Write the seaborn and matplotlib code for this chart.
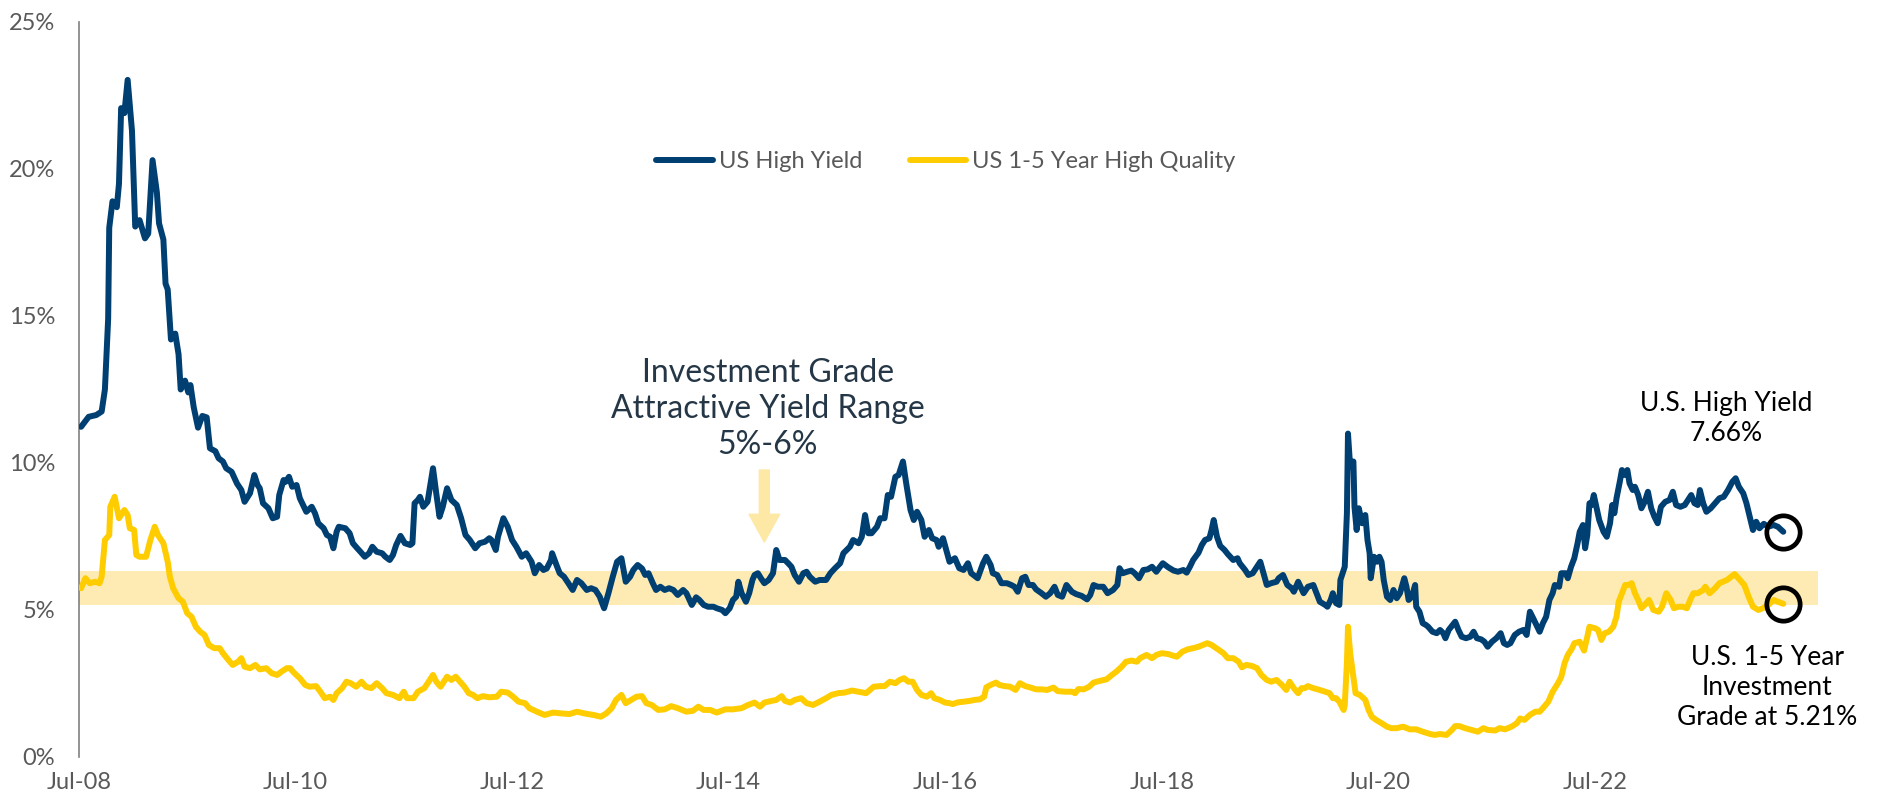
import matplotlib.pyplot as plt
import seaborn as sns

# Weekly yields (decimal year, percent)
hy_years = [
    2008.52, 2008.59, 2008.66, 2008.71, 2008.74, 2008.77, 2008.78, 2008.81, 2008.85, 2008.87,
    2008.89, 2008.92, 2008.95, 2008.99, 2009.02, 2009.06, 2009.11, 2009.14, 2009.18, 2009.22,
    2009.24, 2009.28, 2009.30, 2009.32, 2009.35, 2009.39, 2009.42, 2009.44, 2009.48, 2009.51,
    2009.53, 2009.56, 2009.60, 2009.64, 2009.68, 2009.71, 2009.76, 2009.79, 2009.83, 2009.86,
    2009.91, 2009.96, 2010.00, 2010.03, 2010.08, 2010.12, 2010.15, 2010.17, 2010.20, 2010.25,
    2010.29, 2010.33, 2010.35, 2010.39, 2010.41, 2010.44, 2010.47, 2010.51, 2010.54, 2010.57,
    2010.60, 2010.65, 2010.68, 2010.71, 2010.76, 2010.79, 2010.82, 2010.85, 2010.88, 2010.90,
    2010.96, 2011.00, 2011.03, 2011.07, 2011.10, 2011.14, 2011.18, 2011.21, 2011.25, 2011.30,
    2011.33, 2011.37, 2011.40, 2011.43, 2011.47, 2011.51, 2011.56, 2011.58, 2011.60, 2011.63,
    2011.65, 2011.68, 2011.72, 2011.77, 2011.80, 2011.83, 2011.86, 2011.90, 2011.94, 2011.99,
    2012.03, 2012.07, 2012.11, 2012.16, 2012.20, 2012.25, 2012.29, 2012.31, 2012.35, 2012.37,
    2012.42, 2012.46, 2012.50, 2012.54, 2012.59, 2012.63, 2012.68, 2012.71, 2012.75, 2012.79,
    2012.82, 2012.86, 2012.87, 2012.91, 2012.94, 2012.98, 2013.02, 2013.06, 2013.10, 2013.14,
    2013.19, 2013.23, 2013.27, 2013.31, 2013.35, 2013.39, 2013.43, 2013.47, 2013.51, 2013.55,
    2013.59, 2013.62, 2013.66, 2013.70, 2013.73, 2013.76, 2013.80, 2013.83, 2013.87, 2013.91,
    2013.95, 2013.99, 2014.03, 2014.08, 2014.11, 2014.16, 2014.20, 2014.23, 2014.27, 2014.31,
    2014.36, 2014.39, 2014.44, 2014.47, 2014.51, 2014.54, 2014.57, 2014.59, 2014.62, 2014.66,
    2014.69, 2014.72, 2014.74, 2014.77, 2014.80, 2014.83, 2014.87, 2014.91, 2014.94, 2014.97,
    2015.02, 2015.05, 2015.08, 2015.11, 2015.15, 2015.19, 2015.22, 2015.25, 2015.30, 2015.34,
    2015.40, 2015.44, 2015.48, 2015.53, 2015.56, 2015.59, 2015.62, 2015.65, 2015.70, 2015.73,
    2015.76, 2015.79, 2015.82, 2015.87, 2015.90, 2015.94, 2015.97, 2016.00, 2016.04, 2016.07,
    2016.11, 2016.14, 2016.18, 2016.21, 2016.24, 2016.28, 2016.31, 2016.35, 2016.38, 2016.42,
    2016.44, 2016.48, 2016.51, 2016.54, 2016.59, 2016.63, 2016.67, 2016.71, 2016.74, 2016.80,
    2016.85, 2016.88, 2016.92, 2016.94, 2016.98, 2017.02, 2017.07, 2017.11, 2017.14, 2017.17,
    2017.21, 2017.24, 2017.27, 2017.31, 2017.34, 2017.39, 2017.43, 2017.47, 2017.51, 2017.54,
    2017.58, 2017.62, 2017.67, 2017.71, 2017.76, 2017.81, 2017.84, 2017.87, 2017.91, 2017.96,
    2018.00, 2018.05, 2018.09, 2018.11, 2018.14, 2018.18, 2018.22, 2018.25, 2018.29, 2018.33,
    2018.37, 2018.41, 2018.45, 2018.48, 2018.51, 2018.56, 2018.61, 2018.65, 2018.70, 2018.73,
    2018.76, 2018.79, 2018.84, 2018.87, 2018.90, 2018.94, 2018.96, 2018.98, 2019.01, 2019.04,
    2019.08, 2019.11, 2019.16, 2019.20, 2019.22, 2019.27, 2019.30, 2019.34, 2019.38, 2019.41,
    2019.44, 2019.47, 2019.51, 2019.56, 2019.58, 2019.62, 2019.66, 2019.70, 2019.72, 2019.76,
    2019.81, 2019.85, 2019.90, 2019.93, 2019.96, 2020.01, 2020.03, 2020.06, 2020.08, 2020.11,
    2020.14, 2020.15, 2020.18, 2020.19, 2020.21, 2020.22, 2020.24, 2020.27, 2020.28, 2020.30,
    2020.32, 2020.35, 2020.38, 2020.40, 2020.42, 2020.43, 2020.46, 2020.49, 2020.51, 2020.53,
    2020.55, 2020.58, 2020.61, 2020.64, 2020.67, 2020.70, 2020.74, 2020.76, 2020.78, 2020.81,
    2020.84, 2020.85, 2020.88, 2020.91, 2020.94, 2020.96, 2021.00, 2021.04, 2021.07, 2021.10,
    2021.12, 2021.15, 2021.21, 2021.24, 2021.27, 2021.31, 2021.35, 2021.38, 2021.41, 2021.45,
    2021.48, 2021.51, 2021.55, 2021.59, 2021.63, 2021.66, 2021.69, 2021.72, 2021.76, 2021.80,
    2021.84, 2021.87, 2021.90, 2021.93, 2021.96, 2021.99, 2022.02, 2022.05, 2022.08, 2022.11,
    2022.13, 2022.17, 2022.19, 2022.23, 2022.25, 2022.28, 2022.31, 2022.34, 2022.36, 2022.39,
    2022.41, 2022.43, 2022.45, 2022.47, 2022.49, 2022.51, 2022.54, 2022.58, 2022.61, 2022.64,
    2022.66, 2022.68, 2022.70, 2022.73, 2022.75, 2022.78, 2022.80, 2022.82, 2022.85, 2022.87,
    2022.90, 2022.93, 2022.96, 2022.99, 2023.02, 2023.05, 2023.08, 2023.11, 2023.15, 2023.19,
    2023.22, 2023.25, 2023.29, 2023.33, 2023.36, 2023.39, 2023.42, 2023.45, 2023.47, 2023.50,
    2023.53, 2023.57, 2023.61, 2023.65, 2023.69, 2023.73, 2023.77, 2023.80, 2023.83, 2023.87,
    2023.90, 2023.93, 2023.96, 2023.99, 2024.02, 2024.06, 2024.10, 2024.15, 2024.19, 2024.24,
]
hy_values = [
    11.23, 11.57, 11.63, 11.75, 12.5, 14.9, 18.0, 18.9, 18.7, 19.5,
    22.07, 21.9, 23.03, 21.3, 18.04, 18.26, 17.64, 17.8, 20.3, 19.2,
    18.15, 17.6, 16.1, 15.9, 14.2, 14.4, 13.7, 12.5, 12.8, 12.4,
    12.65, 11.9, 11.2, 11.6, 11.55, 10.5, 10.4, 10.16, 10.05, 9.82,
    9.7, 9.3, 9.08, 8.68, 8.97, 9.59, 9.25, 9.14, 8.63, 8.46,
    8.12, 8.17, 8.91, 9.42, 9.36, 9.53, 9.19, 9.25, 8.8, 8.57,
    8.34, 8.51, 8.29, 7.95, 7.78, 7.55, 7.49, 7.1, 7.66, 7.83,
    7.78, 7.61, 7.27, 7.1, 6.98, 6.81, 6.93, 7.15, 6.98, 6.93,
    6.81, 6.7, 6.87, 7.21, 7.52, 7.27, 7.21, 7.27, 8.63, 8.74,
    8.85, 8.51, 8.68, 9.82, 8.97, 8.17, 8.51, 9.14, 8.74, 8.57,
    8.12, 7.55, 7.38, 7.1, 7.27, 7.32, 7.44, 7.38, 7.04, 7.49,
    8.12, 7.83, 7.38, 7.15, 6.81, 6.93, 6.64, 6.25, 6.53, 6.36,
    6.41, 6.7, 6.93, 6.53, 6.25, 6.13, 5.91, 5.68, 6.02, 5.91,
    5.68, 5.74, 5.68, 5.45, 5.06, 5.57, 6.13, 6.64, 6.76, 5.96,
    6.13, 6.36, 6.53, 6.41, 6.19, 6.25, 5.91, 5.68, 5.79, 5.68,
    5.74, 5.68, 5.51, 5.68, 5.57, 5.17, 5.43, 5.34, 5.17, 5.11,
    5.11, 5.06, 5.0, 4.89, 5.06, 5.34, 5.45, 5.96, 5.57, 5.28,
    5.57, 6.02, 6.19, 6.25, 6.07, 5.91, 6.02, 6.25, 7.04, 6.7,
    6.7, 6.59, 6.47, 6.19, 5.96, 6.25, 6.3, 6.13, 5.96, 6.02,
    6.02, 6.25, 6.41, 6.59, 6.93, 7.04, 7.15, 7.38, 7.27, 7.49,
    8.23, 7.61, 7.61, 7.83, 8.12, 8.12, 8.91, 8.85, 9.53, 9.59,
    10.05, 9.31, 8.4, 8.06, 8.34, 8.06, 7.49, 7.72, 7.44, 7.38,
    7.15, 7.44, 7.04, 6.64, 6.76, 6.42, 6.36, 6.59, 6.25, 6.08,
    6.59, 6.81, 6.53, 6.25, 6.19, 5.91, 5.91, 5.85, 5.79, 5.62,
    6.08, 6.13, 5.85, 5.85, 5.70, 5.57, 5.45, 5.57, 5.79, 5.51,
    5.45, 5.85, 5.62, 5.54, 5.48, 5.36, 5.51, 5.85, 5.79, 5.79,
    5.57, 5.68, 5.85, 6.42, 6.25, 6.30, 6.34, 6.25, 6.08, 6.36,
    6.38, 6.47, 6.30, 6.45, 6.59, 6.45, 6.34, 6.30, 6.36, 6.27,
    6.47, 6.70, 6.95, 7.21, 7.38, 7.44, 7.72, 8.06, 7.49, 7.18,
    7.04, 6.9, 6.70, 6.76, 6.59, 6.36, 6.19, 6.25, 6.47, 6.64,
    6.25, 5.85, 5.91, 5.96, 6.08, 6.19, 5.85, 5.74, 5.62, 5.96,
    5.57, 5.79, 5.85, 5.57, 5.28, 5.17, 5.11, 5.34, 5.57, 5.23,
    5.17, 6.02, 6.36, 6.47, 8.29, 11.0, 9.87, 10.05, 8.51, 7.72,
    8.46, 7.95, 8.23, 7.38, 6.93, 6.08, 6.81, 6.64, 6.81, 6.64,
    6.02, 5.45, 5.34, 5.68, 5.40, 5.57, 6.08, 5.79, 5.34, 5.45,
    5.85, 5.11, 4.94, 4.55, 4.49, 4.43, 4.26, 4.21, 4.32, 4.21,
    4.04, 4.32, 4.60, 4.32, 4.09, 4.04, 4.09, 4.26, 4.04, 4.00,
    3.92, 3.75, 3.92, 4.04, 4.21, 3.87, 3.81, 3.87, 4.15, 4.26,
    4.32, 4.15, 4.94, 4.72, 4.49, 4.26, 4.55, 4.77, 5.34, 5.57,
    5.85, 5.79, 6.25, 6.25, 6.08, 6.47, 6.76, 7.27, 7.66, 7.89,
    7.10, 7.55, 8.63, 8.57, 8.91, 8.57, 8.06, 7.66, 7.49, 7.95,
    8.57, 8.29, 8.80, 9.36, 9.76, 9.59, 9.76, 9.31, 9.08, 9.19,
    8.91, 8.46, 8.68, 9.02, 8.46, 8.17, 7.95, 8.51, 8.68, 8.74,
    9.02, 8.57, 8.51, 8.57, 8.74, 8.91, 8.63, 8.57, 9.08, 8.63,
    8.34, 8.46, 8.63, 8.80, 8.85, 9.08, 9.36, 9.48, 9.19, 8.97,
    8.63, 8.17, 7.72, 8.00, 7.78, 7.93, 7.83, 7.89, 7.83, 7.66,
]

ig_years = [
    2008.52, 2008.56, 2008.60, 2008.65, 2008.69, 2008.71, 2008.74, 2008.78, 2008.79, 2008.83,
    2008.87, 2008.92, 2008.95, 2008.97, 2009.01, 2009.03, 2009.06, 2009.12, 2009.16, 2009.20,
    2009.23, 2009.28, 2009.32, 2009.34, 2009.37, 2009.42, 2009.46, 2009.50, 2009.54, 2009.58,
    2009.62, 2009.66, 2009.70, 2009.75, 2009.80, 2009.83, 2009.88, 2009.92, 2009.97, 2010.00,
    2010.03, 2010.08, 2010.13, 2010.17, 2010.23, 2010.28, 2010.33, 2010.37, 2010.42, 2010.45,
    2010.49, 2010.54, 2010.59, 2010.63, 2010.69, 2010.73, 2010.77, 2010.82, 2010.85, 2010.88,
    2010.93, 2010.97, 2011.01, 2011.06, 2011.11, 2011.15, 2011.20, 2011.25, 2011.30, 2011.34,
    2011.40, 2011.46, 2011.50, 2011.53, 2011.59, 2011.63, 2011.69, 2011.73, 2011.77, 2011.80,
    2011.84, 2011.90, 2011.94, 2011.98, 2012.02, 2012.06, 2012.10, 2012.14, 2012.18, 2012.23,
    2012.29, 2012.36, 2012.40, 2012.46, 2012.51, 2012.56, 2012.62, 2012.66, 2012.73, 2012.80,
    2012.88, 2012.96, 2013.03, 2013.10, 2013.17, 2013.25, 2013.32, 2013.37, 2013.42, 2013.46,
    2013.51, 2013.55, 2013.60, 2013.65, 2013.70, 2013.74, 2013.79, 2013.85, 2013.91, 2013.97,
    2014.03, 2014.11, 2014.17, 2014.22, 2014.27, 2014.33, 2014.39, 2014.47, 2014.54, 2014.62,
    2014.68, 2014.74, 2014.79, 2014.83, 2014.90, 2014.94, 2014.99, 2015.02, 2015.07, 2015.11,
    2015.17, 2015.22, 2015.28, 2015.34, 2015.40, 2015.45, 2015.51, 2015.57, 2015.64, 2015.70,
    2015.77, 2015.84, 2015.90, 2015.94, 2015.99, 2016.04, 2016.08, 2016.12, 2016.16, 2016.20,
    2016.24, 2016.28, 2016.33, 2016.37, 2016.40, 2016.45, 2016.50, 2016.54, 2016.57, 2016.62,
    2016.67, 2016.73, 2016.77, 2016.82, 2016.86, 2016.88, 2016.92, 2016.97, 2017.00, 2017.05,
    2017.10, 2017.15, 2017.19, 2017.24, 2017.28, 2017.34, 2017.39, 2017.44, 2017.50, 2017.54,
    2017.61, 2017.67, 2017.70, 2017.73, 2017.78, 2017.83, 2017.87, 2017.93, 2017.99, 2018.04,
    2018.08, 2018.13, 2018.17, 2018.22, 2018.27, 2018.30, 2018.36, 2018.41, 2018.45, 2018.50,
    2018.56, 2018.61, 2018.64, 2018.69, 2018.74, 2018.79, 2018.84, 2018.88, 2018.92, 2018.96,
    2019.02, 2019.07, 2019.11, 2019.16, 2019.21, 2019.24, 2019.28, 2019.33, 2019.38, 2019.42,
    2019.47, 2019.51, 2019.56, 2019.61, 2019.65, 2019.68, 2019.72, 2019.76, 2019.79, 2019.82,
    2019.85, 2019.90, 2019.94, 2020.01, 2020.05, 2020.08, 2020.11, 2020.14, 2020.18, 2020.19,
    2020.21, 2020.22, 2020.24, 2020.27, 2020.29, 2020.33, 2020.38, 2020.41, 2020.44, 2020.48,
    2020.53, 2020.58, 2020.62, 2020.67, 2020.73, 2020.79, 2020.85, 2020.91, 2020.98, 2021.02,
    2021.07, 2021.13, 2021.18, 2021.21, 2021.25, 2021.30, 2021.36, 2021.42, 2021.47, 2021.51,
    2021.58, 2021.62, 2021.67, 2021.73, 2021.78, 2021.81, 2021.85, 2021.90, 2021.95, 2021.99,
    2022.02, 2022.07, 2022.11, 2022.16, 2022.19, 2022.22, 2022.25, 2022.29, 2022.31, 2022.36,
    2022.40, 2022.43, 2022.45, 2022.50, 2022.53, 2022.56, 2022.59, 2022.63, 2022.67, 2022.70,
    2022.72, 2022.75, 2022.78, 2022.81, 2022.84, 2022.87, 2022.90, 2022.93, 2022.96, 2023.00,
    2023.04, 2023.09, 2023.12, 2023.16, 2023.20, 2023.23, 2023.27, 2023.31, 2023.35, 2023.38,
    2023.41, 2023.45, 2023.50, 2023.52, 2023.56, 2023.61, 2023.65, 2023.72, 2023.79, 2023.84,
    2023.88, 2023.92, 2023.96, 2024.01, 2024.05, 2024.10, 2024.15, 2024.19, 2024.24,
]
ig_values = [
    5.74, 6.08, 5.91, 5.96, 5.91, 6.13, 7.38, 7.55, 8.51, 8.85,
    8.12, 8.40, 8.23, 7.78, 7.72, 6.87, 6.81, 6.81, 7.38, 7.83,
    7.55, 7.27, 6.64, 6.13, 5.74, 5.40, 5.28, 4.89, 4.77, 4.43,
    4.26, 4.15, 3.81, 3.70, 3.70, 3.53, 3.30, 3.13, 3.24, 3.36,
    3.07, 3.02, 3.13, 2.98, 3.02, 2.85, 2.79, 2.90, 3.02, 3.02,
    2.85, 2.68, 2.45, 2.39, 2.41, 2.22, 2.00, 2.05, 1.94, 2.17,
    2.34, 2.56, 2.51, 2.39, 2.56, 2.39, 2.34, 2.51, 2.34, 2.17,
    2.11, 2.00, 2.22, 2.00, 2.00, 2.22, 2.34, 2.56, 2.79, 2.56,
    2.39, 2.73, 2.62, 2.73, 2.56, 2.39, 2.17, 2.11, 2.00, 2.07,
    2.03, 2.05, 2.22, 2.19, 2.05, 1.88, 1.83, 1.66, 1.54, 1.43,
    1.51, 1.48, 1.46, 1.54, 1.48, 1.43, 1.37, 1.48, 1.66, 1.94,
    2.11, 1.83, 1.94, 2.05, 2.07, 1.83, 1.77, 1.60, 1.62, 1.73,
    1.66, 1.54, 1.57, 1.71, 1.60, 1.60, 1.51, 1.62, 1.62, 1.66,
    1.77, 1.85, 1.71, 1.85, 1.91, 1.94, 2.07, 1.91, 1.85, 1.94,
    2.00, 1.83, 1.77, 1.88, 2.00, 2.11, 2.17, 2.19, 2.26, 2.22,
    2.17, 2.39, 2.41, 2.41, 2.56, 2.51, 2.62, 2.68, 2.56, 2.56,
    2.28, 2.11, 2.05, 2.17, 2.00, 1.94, 1.85, 1.83, 1.80, 1.86,
    1.88, 1.91, 1.94, 1.96, 2.05, 2.37, 2.45, 2.53, 2.45, 2.41,
    2.39, 2.28, 2.51, 2.41, 2.37, 2.30, 2.30, 2.28, 2.36, 2.24,
    2.22, 2.22, 2.17, 2.31, 2.30, 2.39, 2.53, 2.59, 2.64, 2.79,
    2.90, 3.07, 3.24, 3.28, 3.24, 3.36, 3.47, 3.36, 3.47, 3.53,
    3.50, 3.44, 3.41, 3.58, 3.66, 3.70, 3.75, 3.81, 3.87, 3.81,
    3.66, 3.53, 3.36, 3.36, 3.24, 3.05, 3.13, 3.10, 3.02, 2.79,
    2.62, 2.56, 2.62, 2.45, 2.28, 2.56, 2.34, 2.17, 2.34, 2.34,
    2.41, 2.34, 2.30, 2.22, 2.17, 2.00, 2.00, 1.88, 1.60, 1.77,
    3.19, 4.43, 3.53, 2.73, 2.17, 2.11, 1.94, 1.60, 1.37, 1.26,
    1.15, 1.03, 0.98, 0.98, 1.03, 0.94, 0.94, 0.86, 0.78, 0.75,
    0.78, 0.75, 0.92, 1.05, 1.05, 0.98, 0.92, 0.86, 0.98, 0.92,
    0.90, 0.98, 0.94, 1.03, 1.15, 1.31, 1.26, 1.43, 1.54, 1.54,
    1.66, 1.88, 2.22, 2.51, 2.73, 3.19, 3.47, 3.70, 3.87, 3.92,
    3.62, 4.09, 4.43, 4.38, 4.32, 3.98, 4.21, 4.26, 4.43, 4.77,
    5.28, 5.57, 5.85, 5.85, 5.91, 5.57, 5.34, 5.06, 5.17, 5.34,
    5.00, 4.94, 5.11, 5.57, 5.34, 5.06, 5.11, 5.11, 5.06, 5.34,
    5.57, 5.57, 5.68, 5.79, 5.57, 5.74, 5.91, 6.02, 6.22, 6.02,
    5.85, 5.45, 5.11, 5.00, 5.06, 5.17, 5.34, 5.28, 5.21,
]

tick_years = [2008.5, 2010.5, 2012.5, 2014.5, 2016.5, 2018.5, 2020.5, 2022.5]
tick_labels = ["Jul-08", "Jul-10", "Jul-12", "Jul-14", "Jul-16", "Jul-18", "Jul-20", "Jul-22"]
y_ticks = [0, 5, 10, 15, 20, 25]

# shaded "attractive" range and the arrow pointing at it
BAND_LOW, BAND_HIGH = 5.17, 6.33
ARROW_X, ARROW_TOP, ARROW_TIP = 2014.83, 9.76, 7.31

HY_COLOR = "#003f72"
IG_COLOR = "#ffcc00"
BAND_COLOR = "#feebb3"
ARROW_COLOR = "#fde8a6"
TICK_COLOR = "#595959"
NOTE_COLOR = "#253746"

assert len(hy_years) == len(hy_values)
assert len(ig_years) == len(ig_values)

sns.set_theme(style="white")
plt.rcParams["font.family"] = ["Lato", "DejaVu Sans"]

fig, ax = plt.subplots(figsize=(18.79, 7.99), dpi=100)
fig.subplots_adjust(left=0.042, right=0.9675, bottom=0.0526, top=0.9725)

ax.axhspan(BAND_LOW, BAND_HIGH, color=BAND_COLOR, lw=0, zorder=0)

sns.lineplot(x=hy_years, y=hy_values, ax=ax, color=HY_COLOR, linewidth=4.3,
             estimator=None, sort=False, label="US High Yield",
             solid_capstyle="round", solid_joinstyle="round", zorder=3)
sns.lineplot(x=ig_years, y=ig_values, ax=ax, color=IG_COLOR, linewidth=4.3,
             estimator=None, sort=False, label="US 1-5 Year High Quality",
             solid_capstyle="round", solid_joinstyle="round", zorder=3)

# circles on the latest values
for xs, ys in [(hy_years, hy_values), (ig_years, ig_values)]:
    ax.plot(xs[-1], ys[-1], marker="o", ms=24, mfc="none", mec="black",
            mew=3.4, zorder=4, clip_on=False)

ax.annotate("", xy=(ARROW_X, ARROW_TIP), xytext=(ARROW_X, ARROW_TOP),
            arrowprops=dict(arrowstyle="simple,head_length=1.0,head_width=1.1,tail_width=0.36",
                            color=ARROW_COLOR, mutation_scale=20, shrinkA=0, shrinkB=0))

ax.text(2014.86, 11.84, "Investment Grade\nAttractive Yield Range\n5%-6%",
        ha="center", va="center", fontsize=23, color=NOTE_COLOR, linespacing=1.25)
ax.text(2023.71, 11.51, "U.S. High Yield\n7.66%", ha="center", va="center",
        fontsize=19, color="black", linespacing=1.25)
ax.text(2024.09, 2.35, "U.S. 1-5 Year\nInvestment\nGrade at 5.21%", ha="center",
        va="center", fontsize=19, color="black", linespacing=1.25, clip_on=False)

ax.set_xlim(2008.5, 2024.56)
ax.set_ylim(0, 25)
ax.set_xticks(tick_years, tick_labels)
ax.set_yticks(y_ticks, [f"{v}%" for v in y_ticks])
ax.tick_params(length=0, labelsize=17, labelcolor=TICK_COLOR)
ax.tick_params(axis="y", pad=17)
ax.tick_params(axis="x", pad=11)
ax.set_xlabel("")
ax.set_ylabel("")
ax.grid(False)

for side in ["top", "right", "bottom"]:
    ax.spines[side].set_visible(False)
ax.spines["left"].set_color("#808080")
ax.spines["left"].set_linewidth(1.2)

ax.legend(loc="center", bbox_to_anchor=(0.4986, 0.8095), ncol=2, frameon=False,
          fontsize=17, handlelength=2.4, handletextpad=0.25, columnspacing=2.0,
          labelcolor=TICK_COLOR)

fig.savefig("out.png", dpi=100)
plt.close(fig)
